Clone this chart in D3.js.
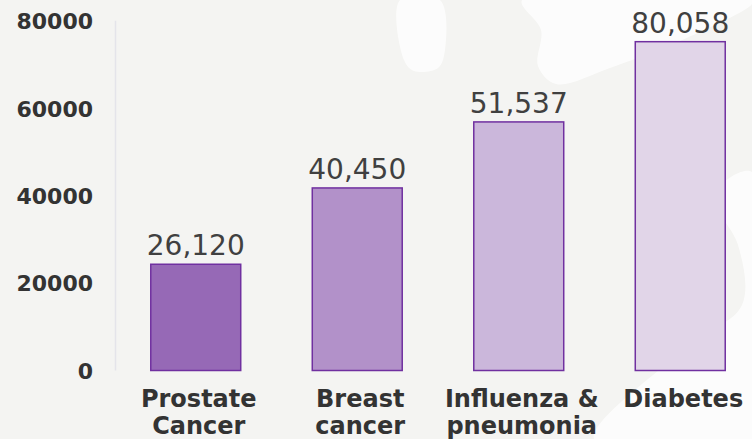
<!DOCTYPE html>
<html>
<head>
<meta charset="utf-8">
<script src="https://cdn.jsdelivr.net/npm/d3@7"></script>
<style>
  html, body { margin: 0; padding: 0; background: #f4f4f2; }
  svg { display: block; }
</style>
</head>
<body>
<div id="chart"></div>
<script>
// ---- data ----
const categories = ["Prostate Cancer", "Breast cancer", "Influenza & pneumonia", "Diabetes"];
const categoryLines = [["Prostate", "Cancer"], ["Breast", "cancer"], ["Influenza &", "pneumonia"], ["Diabetes"]];
const barValues = [24300, 41750, 56850, 75200];          // bar heights as drawn
const valueLabels = ["26,120", "40,450", "51,537", "80,058"]; // printed labels
const yTicks = [0, 20000, 40000, 60000, 80000];
const barFills = ["#9669b6", "#b291c9", "#cbb7db", "#e1d5e8"];

// ---- layout ----
const W = 752, H = 439;
const svg = d3.select("#chart").append("svg").attr("width", W).attr("height", H);

svg.append("rect").attr("width", W).attr("height", H).attr("fill", "#f4f4f2");

// faint background watermark shapes
const wm = [
  [[400,0],[440,0],[445,50],[438,68],[414,71],[404,60]],
  [[522,0],[752,0],[752,4],[700,32],[610,68],[556,84],[538,66],[541,30]],
  [[720,186],[752,172],[752,439],[594,439],[690,345],[742,305],[738,245],[716,204]]
];
svg.selectAll("path.wm").data(wm).join("path").attr("class","wm")
  .attr("d", d => d3.line().curve(d3.curveCatmullRomClosed.alpha(0.5))(d))
  .attr("fill", "#ffffff").attr("opacity", 0.75);

const x = d3.scaleBand().domain(categories).range([115, 761])
  .paddingInner(0.443).paddingOuter(0.2215);
const y = d3.scaleLinear().domain([0, 80000]).range([370.5, 20.7]);

// axis line
svg.append("line").attr("x1", 115.5).attr("x2", 115.5)
  .attr("y1", y(80000)).attr("y2", y(0))
  .attr("stroke", "#e4e4ea").attr("stroke-width", 1.5);

// y tick labels
const yAxis = d3.axisLeft(y).tickValues(yTicks).tickFormat(d3.format("d")).tickSize(0).tickPadding(0);
const ga = svg.append("g").attr("transform", "translate(93,0)").call(yAxis);
ga.select(".domain").remove();
ga.selectAll("text")
  .attr("font-family", "DejaVu Sans, Verdana, sans-serif")
  .attr("font-weight", "bold").attr("font-size", "22px").attr("fill", "#333333")
  .attr("dy", "0.36em");

// bars
svg.selectAll("rect.bar").data(categories).join("rect").attr("class", "bar")
  .attr("x", d => x(d))
  .attr("y", (d, i) => y(barValues[i]))
  .attr("width", x.bandwidth())
  .attr("height", (d, i) => y(0) - y(barValues[i]))
  .attr("fill", (d, i) => barFills[i])
  .attr("stroke", "#7030a0").attr("stroke-width", 1.5);

// value labels
svg.selectAll("text.val").data(categories).join("text").attr("class", "val")
  .attr("x", d => x(d) + x.bandwidth() / 2)
  .attr("y", (d, i) => y(barValues[i]) - 9)
  .attr("text-anchor", "middle")
  .attr("font-family", "DejaVu Sans, Verdana, sans-serif")
  .attr("font-size", "28px").attr("fill", "#404040")
  .text((d, i) => valueLabels[i]);

// category labels
const cl = svg.selectAll("text.cat").data(categories).join("text").attr("class", "cat")
  .attr("x", d => x(d) + x.bandwidth() / 2 + 3)
  .attr("y", 406.5)
  .attr("text-anchor", "middle")
  .attr("font-family", "DejaVu Sans, Verdana, sans-serif")
  .attr("font-weight", "bold").attr("font-size", "24px").attr("fill", "#333333");
cl.each(function(d, i) {
  const t = d3.select(this);
  categoryLines[i].forEach((line, j) => {
    t.append("tspan").attr("x", x(d) + x.bandwidth() / 2 + 3)
      .attr("dy", j === 0 ? 0 : 27.5).text(line);
  });
});
</script>
</body>
</html>
